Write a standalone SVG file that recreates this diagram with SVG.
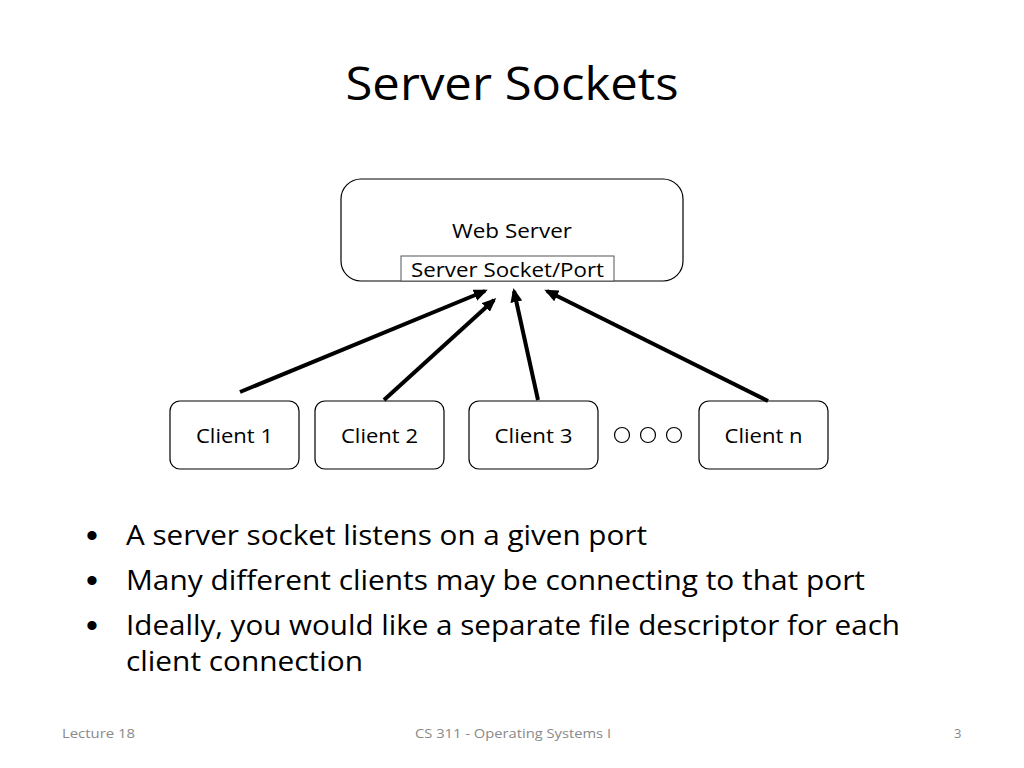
<svg xmlns="http://www.w3.org/2000/svg" width="1024" height="768" viewBox="0 0 1024 768">
<defs>
<marker id="ah" markerWidth="14" markerHeight="12" refX="11" refY="6" orient="auto" markerUnits="userSpaceOnUse" viewBox="0 0 14 12">
<path d="M0,0 L14,6 L0,12 Z" fill="#000"/>
</marker>
<style>
text{font-family:"Open Sans","Noto Sans","Liberation Sans",sans-serif;fill:#000}
.box{fill:#fff;stroke:#000;stroke-width:1.2}
.lbl{font-size:20px;text-anchor:middle}
.conn line{stroke:#000;stroke-width:4;marker-end:url(#ah)}
.bul{font-size:27px}
.dot{font-size:34px;font-family:"Liberation Sans",sans-serif}
.foot{font-size:13px;fill:#898989}
</style>
</defs>
<rect width="1024" height="768" fill="#fff"/>
<text x="512" y="100" font-size="46" text-anchor="middle" textLength="333" lengthAdjust="spacingAndGlyphs">Server Sockets</text>

<g id="webserver">
<rect class="box" x="341" y="179" width="342" height="102" rx="20"/>
<text class="lbl" x="512" y="238" textLength="120" lengthAdjust="spacingAndGlyphs">Web Server</text>
</g>
<g id="socket">
<rect x="401" y="256" width="213" height="25" fill="#fff" stroke="#555" stroke-width="1"/>
<text class="lbl" x="507.5" y="277" textLength="193" lengthAdjust="spacingAndGlyphs">Server Socket/Port</text>
</g>

<g id="client1">
<rect class="box" x="170" y="401" width="129" height="68" rx="10"/>
<text class="lbl" x="234.5" y="443" textLength="77" lengthAdjust="spacingAndGlyphs">Client 1</text>
</g>
<g id="client2">
<rect class="box" x="315" y="401" width="129" height="68" rx="10"/>
<text class="lbl" x="379.5" y="443" textLength="77" lengthAdjust="spacingAndGlyphs">Client 2</text>
</g>
<g id="client3">
<rect class="box" x="469" y="401" width="129" height="68" rx="10"/>
<text class="lbl" x="533.5" y="443" textLength="78" lengthAdjust="spacingAndGlyphs">Client 3</text>
</g>
<g id="dots" fill="none" stroke="#000" stroke-width="1.2">
<circle cx="622" cy="435" r="7.5"/>
<circle cx="648" cy="435" r="7.5"/>
<circle cx="674" cy="435" r="7.5"/>
</g>
<g id="clientn">
<rect class="box" x="699" y="401" width="129" height="68" rx="10"/>
<text class="lbl" x="763.5" y="443" textLength="78" lengthAdjust="spacingAndGlyphs">Client n</text>
</g>

<g id="connectors" class="conn">
<line x1="240" y1="392" x2="485" y2="291"/>
<line x1="384" y1="400" x2="494" y2="300"/>
<line x1="538" y1="400" x2="514" y2="291"/>
<line x1="768" y1="401" x2="547" y2="291"/>
</g>

<g id="bullets">
<text class="dot" x="86" y="547">•</text>
<text class="bul" x="126" y="545" textLength="521" lengthAdjust="spacingAndGlyphs">A server socket listens on a given port</text>
<text class="dot" x="86" y="592">•</text>
<text class="bul" x="126" y="590" textLength="739" lengthAdjust="spacingAndGlyphs">Many different clients may be connecting to that port</text>
<text class="dot" x="86" y="637">•</text>
<text class="bul" x="126" y="635" textLength="774" lengthAdjust="spacingAndGlyphs">Ideally, you would like a separate file descriptor for each</text>
<text class="bul" x="126" y="671" textLength="237" lengthAdjust="spacingAndGlyphs">client connection</text>
</g>

<g id="footer">
<text class="foot" x="62" y="738" textLength="73" lengthAdjust="spacingAndGlyphs">Lecture 18</text>
<text class="foot" x="513" y="738" text-anchor="middle" textLength="196" lengthAdjust="spacingAndGlyphs">CS 311 - Operating Systems I</text>
<text class="foot" x="954" y="738">3</text>
</g>
</svg>
